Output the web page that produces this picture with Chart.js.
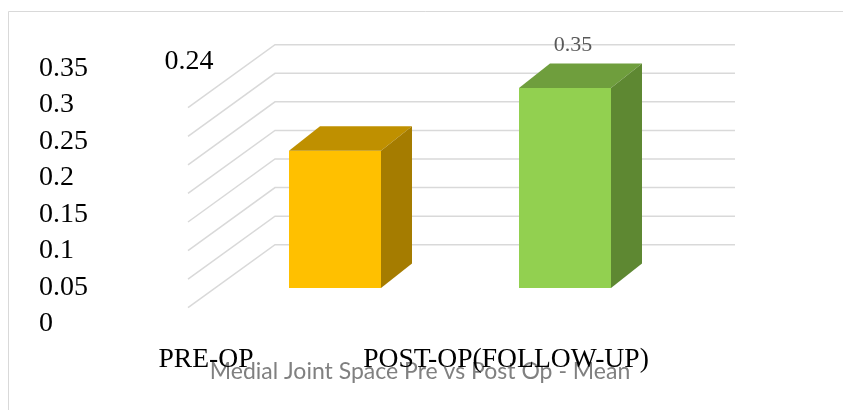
<!DOCTYPE html>
<html>
<head>
<meta charset="utf-8">
<script src="https://cdn.jsdelivr.net/npm/chart.js@4.4.1/dist/chart.umd.min.js"></script>
<style>
    html, body { margin: 0; padding: 0; background: #fff; }
</style>
</head>
<body>
<canvas id="grafico" width="843" height="410"></canvas>
<script>
// dados do gráfico
const categorias = ['PRE-OP', 'POST-OP(FOLLOW-UP)'];
const valores = [0.24, 0.35];
const rotulosValor = ['0.24', '0.35'];
const ticksY = [0, 0.05, 0.1, 0.15, 0.2, 0.25, 0.3, 0.35];
const ticksYTexto = ['0', '0.05', '0.1', '0.15', '0.2', '0.25', '0.3', '0.35'];
const titulo = 'Medial Joint Space Pre vs Post Op - Mean';

// cores das faces (frente, topo, lado)
const corFrente = ['#FFC000', '#92D050'];
const corTopo = ['#BF9000', '#6F9E3D'];
const corLado = ['#A57C00', '#5E8832'];

// perspectiva do "3D"
const PROF_X = 31, PROF_Y = -24.5;      // profundidade das barras
const PAREDE_X = 55, PAREDE_Y = -43.3;  // parede do fundo
const LAT_X = -87, LAT_Y = 63;          // parede lateral

const serif = 'Liberation Serif';

const efeito3d = {
    id: 'efeito3d',
    beforeDraw(chart) {
        const ctx = chart.ctx;
        ctx.save();
        ctx.fillStyle = '#fff';
        ctx.fillRect(0, 0, chart.width, chart.height);
        // moldura
        ctx.strokeStyle = '#d9d9d9';
        ctx.lineWidth = 1;
        ctx.beginPath();
        ctx.moveTo(8.5, chart.height);
        ctx.lineTo(8.5, 11.5);
        ctx.lineTo(chart.width, 11.5);
        ctx.stroke();
        ctx.restore();
    },
    beforeDatasetsDraw(chart) {
        const { ctx, chartArea, scales } = chart;
        const y = scales.y;
        ctx.save();
        ctx.strokeStyle = '#d9d9d9';
        ctx.lineWidth = 1.5;
        ticksY.forEach(function (v) {
            const yy = y.getPixelForValue(v) + PAREDE_Y;
            const x0 = chartArea.left + PAREDE_X;
            ctx.beginPath();
            ctx.moveTo(x0 + LAT_X, yy + LAT_Y);
            ctx.lineTo(x0, yy);
            ctx.lineTo(chartArea.right + PAREDE_X, yy);
            ctx.stroke();
        });
        ctx.restore();
    },
    afterDatasetsDraw(chart) {
        const { ctx, chartArea } = chart;
        const meta = chart.getDatasetMeta(0);
        ctx.save();
        meta.data.forEach(function (bar, i) {
            const p = bar.getProps(['x', 'y', 'base', 'width'], true);
            const l = p.x - p.width / 2, r = p.x + p.width / 2;

            // topo
            ctx.fillStyle = corTopo[i];
            ctx.beginPath();
            ctx.moveTo(l, p.y);
            ctx.lineTo(l + PROF_X, p.y + PROF_Y);
            ctx.lineTo(r + PROF_X, p.y + PROF_Y);
            ctx.lineTo(r, p.y);
            ctx.closePath();
            ctx.fill();

            // lado
            ctx.fillStyle = corLado[i];
            ctx.beginPath();
            ctx.moveTo(r, p.y);
            ctx.lineTo(r + PROF_X, p.y + PROF_Y);
            ctx.lineTo(r + PROF_X, p.base + PROF_Y);
            ctx.lineTo(r, p.base);
            ctx.closePath();
            ctx.fill();

            // rótulos de valor
            ctx.textAlign = 'center';
            ctx.textBaseline = 'middle';
            if (i === 0) {
                // este saiu no canto, com a fonte do eixo
                ctx.fillStyle = '#000';
                ctx.font = '28px "' + serif + '"';
                ctx.fillText(rotulosValor[i], p.x - 146, chartArea.top);
            } else {
                ctx.fillStyle = '#595959';
                ctx.font = '22px "' + serif + '"';
                ctx.fillText(rotulosValor[i], p.x + 8, p.y + PROF_Y - 18);
            }
        });
        ctx.restore();
    }
};

new Chart(document.getElementById('grafico'), {
    type: 'bar',
    data: {
        labels: categorias,
        datasets: [{
            data: valores,
            backgroundColor: corFrente,
            borderWidth: 0,
            barPercentage: 0.4,
            categoryPercentage: 1.0
        }]
    },
    options: {
        responsive: false,
        animation: false,
        devicePixelRatio: 1,
        layout: { padding: { top: 62, left: 39, right: 42, bottom: 0 } },
        plugins: {
            legend: { display: false },
            tooltip: { enabled: false },
            title: {
                display: true,
                position: 'bottom',
                text: titulo,
                color: '#808080',
                font: { family: 'Lato', size: 23, weight: 'normal' },
                padding: { top: -15.8, bottom: 24.2 }
            }
        },
        scales: {
            x: { type: 'category', display: false, offset: true },
            y: {
                type: 'linear',
                position: 'right',
                min: -0.063,
                max: 0.3955,
                ticks: { display: false },
                grid: { display: false },
                border: { display: false },
                afterFit: function (s) { s.width = 121; }
            },
            eixoY: {
                type: 'linear',
                position: 'left',
                min: 0,
                max: 0.359,
                grid: { display: false, drawTicks: false },
                border: { display: false },
                afterBuildTicks: function (s) { s.ticks = ticksY.map(v => ({ value: v })); },
                ticks: {
                    crossAlign: 'far',
                    color: '#000',
                    font: { family: serif, size: 28 },
                    callback: (v, i) => ticksYTexto[i]
                },
                afterFit: function (s) { s.width = 181; }
            },
            eixoX: {
                type: 'linear',
                position: 'bottom',
                offset: false,
                min: 0.0467,
                max: 1.58,
                grid: { display: false, drawTicks: false, offset: false },
                border: { display: false },
                afterBuildTicks: function (s) { s.ticks = [{ value: 0 }, { value: 1 }]; },
                ticks: {
                    color: '#000',
                    padding: 19,
                    autoSkip: false,
                    maxRotation: 0,
                    font: { family: serif, size: 27.6 },
                    callback: (v, i) => categorias[i]
                },
                afterFit: function (s) { s.height = 50; }
            }
        }
    },
    plugins: [efeito3d]
});
</script>
</body>
</html>
